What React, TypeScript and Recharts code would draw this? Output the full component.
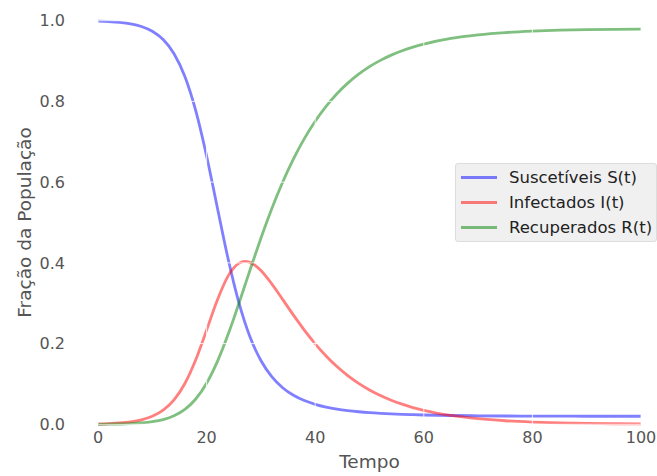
import React from 'react';
import { LineChart, Line, XAxis, YAxis, ReferenceLine } from 'recharts';

// tempo (dias)
const tempo = [
  0, 2, 4, 6, 8, 10, 12, 14, 16, 18, 20, 22, 24, 25, 26, 27, 28, 29, 30, 32, 34, 36,
  38, 40, 42, 44, 46, 48, 50, 52, 54, 56, 58, 60, 65, 70, 75, 80, 85, 90, 95, 100,
];

const suscetiveis = [
  0.999, 0.9979, 0.9959, 0.9923, 0.9857, 0.9738, 0.9533, 0.9183, 0.862, 0.7774, 0.6649,
  0.5353, 0.4076, 0.3506, 0.299, 0.2545, 0.2166, 0.1848, 0.1582, 0.118, 0.0907, 0.0719,
  0.0588, 0.0495, 0.0427, 0.0377, 0.034, 0.0311, 0.0288, 0.0271, 0.0257, 0.0246, 0.0238,
  0.0231, 0.0218, 0.0211, 0.0206, 0.0203, 0.0201, 0.02, 0.0199, 0.0199,
];

const infectados = [
  0.001, 0.0018, 0.0033, 0.006, 0.011, 0.0198, 0.035, 0.0606, 0.1011, 0.1599, 0.2333,
  0.3087, 0.3683, 0.3876, 0.3994, 0.4037, 0.4012, 0.3933, 0.381, 0.348, 0.3096, 0.2704,
  0.2333, 0.1995, 0.1694, 0.1431, 0.1206, 0.1013, 0.085, 0.0712, 0.0596, 0.0498, 0.0415,
  0.0347, 0.022, 0.014, 0.0088, 0.0056, 0.0035, 0.0022, 0.0014, 0.0009,
];

const recuperados = [
  0, 0.0003, 0.0008, 0.0017, 0.0033, 0.0064, 0.0117, 0.0211, 0.0369, 0.0627, 0.1018,
  0.156, 0.2241, 0.2618, 0.3016, 0.3419, 0.3822, 0.4219, 0.4608, 0.534, 0.5997, 0.6577,
  0.7079, 0.751, 0.7879, 0.8192, 0.8454, 0.8676, 0.8862, 0.9017, 0.9147, 0.9256, 0.9347,
  0.9422, 0.9562, 0.9649, 0.9706, 0.9741, 0.9764, 0.9778, 0.9787, 0.9792,
];

const xTicks = [0, 20, 40, 60, 80, 100];
const yTicks = [0, 0.2, 0.4, 0.6, 0.8, 1.0];

const series = [
  { key: 'S', name: 'Suscetíveis S(t)', color: '#0000ff' },
  { key: 'I', name: 'Infectados I(t)', color: '#ff0000' },
  { key: 'R', name: 'Recuperados R(t)', color: '#008000' },
];

const data = tempo.map((t, i) => ({
  t,
  S: suscetiveis[i],
  I: infectados[i],
  R: recuperados[i],
}));

const FONT = '"DejaVu Sans", sans-serif';
const TICK_COLOR = '#555555';

const XLabel = (props: any) => {
  const { viewBox } = props;
  const cx = viewBox.x + viewBox.width / 2;
  const cy = viewBox.y + 37.5;
  return (
    <text x={cx} y={cy} textAnchor="middle" dominantBaseline="central" fill={TICK_COLOR} fontSize={18.5} fontFamily={FONT}>
      Tempo
    </text>
  );
};

const YLabel = (props: any) => {
  const { viewBox } = props;
  const cx = 24;
  const cy = viewBox.y + viewBox.height / 2;
  return (
    <text x={cx} y={cy} transform={`rotate(-90, ${cx}, ${cy})`} textAnchor="middle" dominantBaseline="central" fill={TICK_COLOR} fontSize={18.5} fontFamily={FONT}>
      Fração da População
    </text>
  );
};

function LegendBox() {
  return (
    <div style={{ position: 'absolute', left: 455, top: 163, width: 202, height: 79, background: '#f0f0f0', border: '1px solid #dddddd', borderRadius: 3, padding: '1px 0', boxSizing: 'border-box' }}>
      {series.map((s) => (
        <div key={s.key} style={{ display: 'flex', alignItems: 'center', height: 25 }}>
          <svg width={36} height={25} style={{ marginLeft: 5, flexShrink: 0 }}>
            <line x1={0} y1={12.5} x2={36} y2={12.5} stroke={s.color} strokeOpacity={0.5} strokeWidth={2.8} />
          </svg>
          <span style={{ fontFamily: FONT, fontSize: 16.5, color: '#222222', marginLeft: 12, whiteSpace: 'nowrap' }}>{s.name}</span>
        </div>
      ))}
    </div>
  );
}

export default function App() {
  return (
    <div style={{ position: 'absolute', left: 0, top: 0, width: 657, height: 476, background: '#ffffff' }}>
      <LineChart width={657} height={476} data={data} margin={{ top: 20.7, right: 16, bottom: 21.7, left: 0 }}>
        <XAxis
          dataKey="t"
          type="number"
          domain={[0, 100]}
          ticks={xTicks}
          axisLine={false}
          tickLine={false}
          tickMargin={1}
          height={30}
          tick={{ fill: TICK_COLOR, fontSize: 16, fontFamily: FONT }}
          label={<XLabel />}
        />
        <YAxis
          type="number"
          domain={[0, 1]}
          ticks={yTicks}
          width={98}
          axisLine={false}
          tickLine={false}
          tickMargin={27}
          tickFormatter={(v: number) => v.toFixed(1)}
          tick={{ fill: TICK_COLOR, fontSize: 16, fontFamily: FONT }}
          label={<YLabel />}
        />
        {series.map((s) => (
          <Line
            key={s.key}
            type="monotone"
            dataKey={s.key}
            name={s.name}
            stroke={s.color}
            strokeOpacity={0.5}
            strokeWidth={2.8}
            dot={false}
            activeDot={false}
            isAnimationActive={false}
          />
        ))}
        {/* grade branca por cima das linhas */}
        {xTicks.map((x) => (
          <ReferenceLine key={`gx${x}`} x={x} stroke="#ffffff" strokeOpacity={0.8} strokeWidth={1} />
        ))}
        {yTicks.map((y) => (
          <ReferenceLine key={`gy${y}`} y={y} stroke="#ffffff" strokeOpacity={0.8} strokeWidth={1} />
        ))}
      </LineChart>
      <LegendBox />
    </div>
  );
}
